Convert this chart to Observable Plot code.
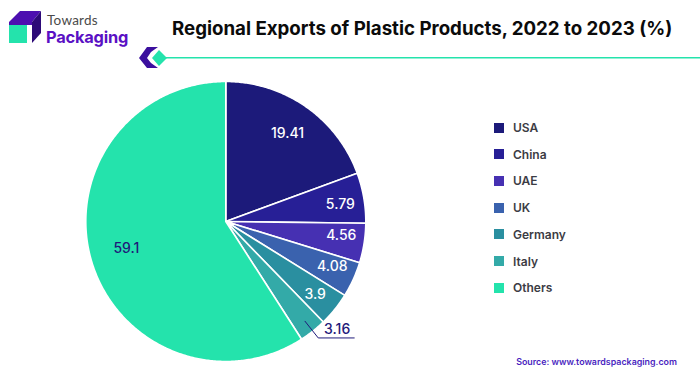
<!DOCTYPE html>
<html><head><meta charset="utf-8">
<script src="https://cdn.jsdelivr.net/npm/d3@7"></script>
<script src="https://cdn.jsdelivr.net/npm/@observablehq/plot@0.6"></script>
<style>
html,body{margin:0;padding:0;background:#fff;width:700px;height:376px;overflow:hidden}
#root{position:relative;width:700px;height:376px;font-family:Inter,"Liberation Sans",sans-serif}
#chart,#deco{position:absolute;left:0;top:0}
.abs{position:absolute;white-space:nowrap;line-height:1}
#title{left:172px;top:20px;font-size:18.68px;font-weight:700;color:#0b0b0b}
#towards{left:47px;top:14px;font-family:Lato,sans-serif;font-size:13.5px;line-height:13px;letter-spacing:.25px;color:#4a4a4a}
#packaging{left:46px;top:29px;font-size:16.4px;line-height:16px;font-weight:700;color:#5a10c4;letter-spacing:-.2px}
#source{right:23px;top:358px;font-size:8.9px;font-weight:600;color:#4a1fc0}
.lg{left:513px;font-size:12px;font-weight:600;color:#3c3c44}
.sw{position:absolute;left:494px;width:10px;height:10px}
</style></head><body><div id="root"></div>
<script>
const regions = ["USA","China","UAE","UK","Germany","Italy","Others"];
const shares = [19.41,5.79,4.56,4.08,3.9,3.16,59.1];
const labels = ["19.41","5.79","4.56","4.08","3.9","3.16","59.1"];
const colors = ["#1c1a7a","#271f96","#4630b2","#3a62ae","#2a8fa0","#33aaa8","#24e3ac"];
const labelRadius = [0.77,0.83,0.835,0.82,0.82,null,0.74];
const labelNudgeX = [0,0,0,2,0,0,0];
const labelNudgeY = [0,3,-4,-3,1,0,-2];

const R = 140;
const total = d3.sum(shares);
let cum = 0;
const slices = regions.map((region,i)=>{
  const a0 = cum/total*2*Math.PI; cum += shares[i];
  const a1 = cum/total*2*Math.PI;
  const n = Math.max(2,Math.ceil((a1-a0)/0.01));
  const ring = [[0,0]];
  for(let k=0;k<=n;k++){const a=a0+(a1-a0)*k/n; ring.push([Math.sin(a),Math.cos(a)]);}
  ring.push([0,0]);
  const mid=(a0+a1)/2, r=labelRadius[i];
  return {region,share:shares[i],label:labels[i],mid,r,
    lx:Math.sin(mid)*r+labelNudgeX[i]/R, ly:Math.cos(mid)*r-labelNudgeY[i]/R,
    type:"Feature",geometry:{type:"Polygon",coordinates:[ring]}};
});
const textData = slices.filter(d=>d.r!=null);
const italy = slices[5];
const elbow = [Math.sin(italy.mid)*1.062,Math.cos(italy.mid)*1.062];
const leader = [[Math.sin(italy.mid)*0.91,Math.cos(italy.mid)*0.91],elbow,[elbow[0]+0.257,elbow[1]]];

const chart = Plot.plot({
  width:700,height:376,margin:0,
  style:{background:"transparent",fontFamily:"Inter,'Liberation Sans',sans-serif"},
  projection:()=>d3.geoIdentity().reflectY(true).scale(R).translate([225.3,221]),
  color:{domain:regions,range:colors},
  marks:[
    Plot.geo(slices,{fill:d=>d.region,stroke:"#fff",strokeWidth:1.6}),
    Plot.line(leader,{x:d=>d[0],y:d=>d[1],stroke:"#1f1a7a",strokeWidth:1}),
    Plot.text(textData,{x:"lx",y:"ly",text:"label",
      fill:d=>d.region==="Others"?"#1f1a7a":"#fff",fontSize:14,fontWeight:500}),
    Plot.text([italy],{x:()=>elbow[0]+0.135,y:()=>elbow[1],dy:-8,text:"label",fill:"#1f1a7a",fontSize:14,fontWeight:500})
  ]
});
chart.id="chart";
const root=document.getElementById("root");
root.appendChild(chart);

const ns="http://www.w3.org/2000/svg";
const deco=document.createElementNS(ns,"svg");
deco.id="deco";deco.setAttribute("width",700);deco.setAttribute("height",376);
deco.innerHTML=`
<polygon points="9,22 20,11 41,11 32,22" fill="#4d0fb0"/>
<polygon points="9,22 32,22 32,25 9,25" fill="#4d0fb0"/>
<polygon points="32,22 41,11 41,33 32,43" fill="#2d0a78"/>
<rect x="9" y="25" width="18" height="18" fill="#24e3ac"/>
<polygon points="139,58 147,47 158,47 151,52 147,58 151,63 158,68 147,68" fill="#3b0f9e"/>
<polygon points="152,58 159,50 167,58 159,66" fill="#24e3ac"/>
<rect x="165" y="57" width="535" height="1.5" fill="#24e3ac"/>`;
root.appendChild(deco);

function addText(id,cls,text,top){
  const e=document.createElement("div");e.className="abs "+cls;if(id)e.id=id;e.textContent=text;
  if(top!=null)e.style.top=top+"px";root.appendChild(e);
}
addText("title","","Regional Exports of Plastic Products, 2022 to 2023 (%)");
addText("towards","","Towards");
addText("packaging","","Packaging");
addText("source","","Source: www.towardspackaging.com");
const legendTop=122, legendStep=26.7;
regions.forEach((r,i)=>{
  const s=document.createElement("div");s.className="sw";s.style.top=(legendTop+i*legendStep+0.5)+"px";s.style.background=colors[i];root.appendChild(s);
  addText(null,"lg",r,legendTop+i*legendStep);
});
</script></body></html>
